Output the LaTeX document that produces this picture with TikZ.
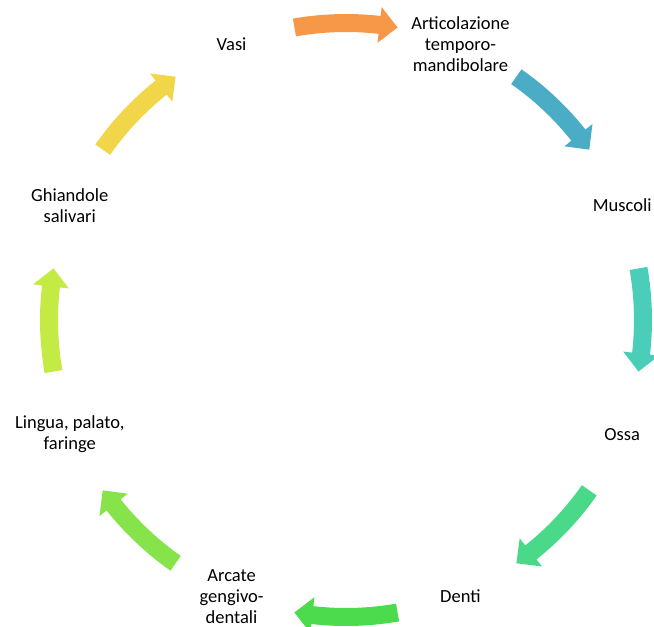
\documentclass[tikz,border=0pt]{standalone}
\usepackage{fontspec}
\setmainfont{Carlito}
\usepackage{tikz}
\usetikzlibrary{positioning}
\definecolor{arrowA}{RGB}{247,152,72}
\definecolor{arrowB}{RGB}{75,172,198}
\definecolor{arrowC}{RGB}{75,206,185}
\definecolor{arrowD}{RGB}{74,216,137}
\definecolor{arrowE}{RGB}{76,219,76}
\definecolor{arrowF}{RGB}{134,228,74}
\definecolor{arrowG}{RGB}{196,234,68}
\definecolor{arrowH}{RGB}{242,214,74}
\tikzset{
  phase/.style={align=center,font=\fontsize{18.5}{21}\selectfont,text=black,inner sep=1pt},
}
\begin{document}
\begin{tikzpicture}[x=1pt,y=1pt]
    \useasboundingbox (-346,-307) rectangle (308,320);
    % Labels
    \node[phase] (vasi) at (112.5:299) {Vasi};
    \node[phase] (atm) at (67.5:299) {Articolazione\\temporo-\\mandibolare};
    \node[phase] (muscoli) at (22.5:299) {Muscoli};
    \node[phase] (ossa) at (-22.5:299) {Ossa};
    \node[phase] (denti) at (-67.5:299) {Denti};
    \node[phase] (arcate) at (-112.5:299) {Arcate\\gengivo-\\dentali};
    \node[phase] (lingua) at (-157.5:299) {Lingua, palato,\\faringe};
    \node[phase] (ghiandole) at (157.5:299) {Ghiandole\\salivari};
    % Arrows
    \foreach \m/\c in {90/arrowA,45/arrowB,0/arrowC,-45/arrowD,-90/arrowE,-135/arrowF,180/arrowG,135/arrowH}{
        \fill[\c] ({\m+10}:306) arc[start angle=\m+10,end angle=\m-6.5,radius=306]
            -- ({\m-6.5}:315) -- ({\m-10}:297) -- ({\m-6.5}:279) -- ({\m-6.5}:288)
            arc[start angle=\m-6.5,end angle=\m+10,radius=288] -- cycle;
    }
\end{tikzpicture}
\end{document}
